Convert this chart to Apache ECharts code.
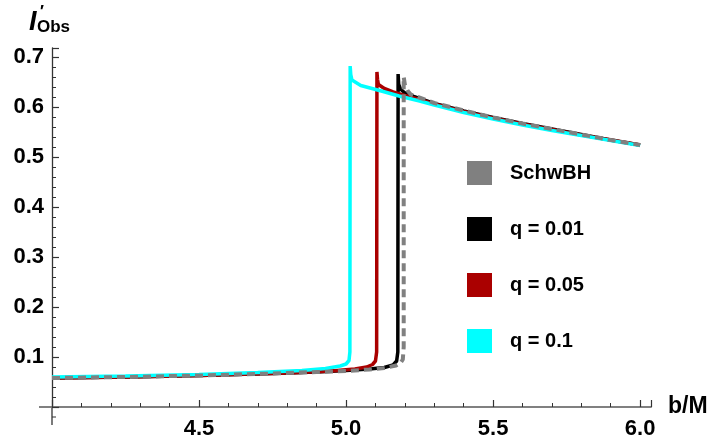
<!DOCTYPE html>
<html lang="en">
<head>
  <meta charset="UTF-8">
  <title>I'Obs vs b/M</title>
  <style>
    *{
      margin: 0;
      padding: 0;
    }
    body{
      background: #ffffff;
    }
    #chart{
      width: 711px;
      height: 446px;
    }
  </style>
</head>
<body>
<div id="chart"></div>

<script type="text/javascript" src="https://cdn.jsdelivr.net/npm/echarts@6/dist/echarts.min.js"></script>
<script>
  // tick steps of the axes (labels are the multiples of these)
  var xStep = 0.5;
  var yStep = 0.1;

  // [b/M, I'Obs]
  var schwData = [
    [4.0, 0.058], [4.25, 0.060], [4.5, 0.063], [4.75, 0.067], [4.9, 0.070], [5.0, 0.072],
    [5.08, 0.075], [5.13, 0.078], [5.17, 0.083], [5.185, 0.088], [5.193, 0.095], [5.196, 0.12],
    [5.196, 0.66], [5.2, 0.645], [5.21, 0.632], [5.22, 0.625], [5.3, 0.608], [5.4, 0.593],
    [5.5, 0.579], [5.6, 0.567], [5.7, 0.556], [5.8, 0.545], [5.9, 0.534], [6.0, 0.524]
  ];
  var q001Data = [
    [4.0, 0.058], [4.25, 0.060], [4.5, 0.063], [4.75, 0.067], [4.9, 0.070], [5.0, 0.073],
    [5.08, 0.076], [5.13, 0.079], [5.16, 0.084], [5.172, 0.092], [5.176, 0.11],
    [5.177, 0.666], [5.179, 0.645], [5.185, 0.636], [5.2, 0.628], [5.23, 0.621], [5.3, 0.607],
    [5.4, 0.592], [5.5, 0.579], [5.6, 0.567], [5.7, 0.556], [5.8, 0.545], [5.9, 0.534], [6.0, 0.524]
  ];
  var q005Data = [
    [4.0, 0.058], [4.25, 0.060], [4.5, 0.063], [4.8, 0.068], [4.95, 0.072], [5.03, 0.076],
    [5.07, 0.080], [5.09, 0.085], [5.1, 0.092], [5.104, 0.11],
    [5.105, 0.67], [5.107, 0.655], [5.11, 0.645], [5.13, 0.637], [5.16, 0.630], [5.2, 0.623],
    [5.25, 0.615], [5.3, 0.606], [5.4, 0.591], [5.5, 0.578], [5.6, 0.566], [5.7, 0.555],
    [5.8, 0.544], [5.9, 0.534], [6.0, 0.524]
  ];
  var q01Data = [
    [4.0, 0.060], [4.25, 0.062], [4.5, 0.065], [4.7, 0.069], [4.85, 0.073], [4.93, 0.077],
    [4.98, 0.082], [5.0, 0.086], [5.01, 0.093], [5.013, 0.11],
    [5.014, 0.682], [5.016, 0.665], [5.02, 0.654], [5.05, 0.643], [5.12, 0.632], [5.18, 0.622],
    [5.25, 0.612], [5.3, 0.604], [5.4, 0.589], [5.5, 0.576], [5.6, 0.564], [5.7, 0.553],
    [5.8, 0.543], [5.9, 0.533], [6.0, 0.523]
  ];

  var FONT = '"Liberation Sans", Arial, sans-serif';
  var X_LINE = '#808080';
  var Y_LINE = '#333333';
  var TICK = '#333333';

  // only print labels that sit on a whole step (hides the max/min end ticks)
  function stepLabel(step, v, min) {
    var k = v / step;
    if (Math.abs(k - Math.round(k)) > 1e-6 || Math.abs(v - min) < 1e-9) return '';
    return v.toFixed(1);
  }

  var myChart = echarts.init(document.getElementById('chart'));

  var option = {
    animation: false,
    grid: {
      left: 52,
      right: 60,
      top: 48,
      bottom: 39
    },
    legend: {
      orient: 'vertical',
      left: 467,
      top: 161,
      padding: 0,
      itemWidth: 25,
      itemHeight: 24,
      itemGap: 32,
      icon: 'rect',
      data: [
        { name: 'SchwBH', itemStyle: { color: '#808080', borderWidth: 0, borderType: 'solid' } },
        { name: 'q = 0.01', itemStyle: { color: '#000000', borderWidth: 0 } },
        { name: 'q = 0.05', itemStyle: { color: '#aa0000', borderWidth: 0 } },
        { name: 'q = 0.1', itemStyle: { color: '#00ffff', borderWidth: 0 } }
      ],
      textStyle: {
        fontFamily: FONT,
        fontSize: 20,
        fontWeight: 'bold',
        color: '#000',
        padding: [0, 0, 0, 13]
      }
    },
    xAxis: {
      type: 'value',
      min: 4.0,
      max: 6.037,
      interval: xStep,
      name: 'b/M',
      nameLocation: 'end',
      nameGap: 17,
      nameTextStyle: {
        fontFamily: FONT,
        fontSize: 23,
        fontWeight: 'bold',
        color: '#000'
      },
      splitLine: { show: false },
      axisLine: { lineStyle: { color: X_LINE, width: 2 } },
      axisTick: {
        show: true,
        inside: true,
        length: 7,
        lineStyle: { color: TICK, width: 1.2 }
      },
      minorTick: {
        show: true,
        splitNumber: 5,
        length: 4,
        lineStyle: { color: TICK, width: 1 }
      },
      axisLabel: {
        margin: 11,
        fontFamily: FONT,
        fontSize: 22,
        fontWeight: 'bold',
        color: '#000',
        formatter: function (v) { return stepLabel(xStep, v, 4.0); }
      }
    },
    yAxis: {
      type: 'value',
      min: 0,
      max: 0.718,
      interval: yStep,
      splitLine: { show: false },
      axisLine: { show: true, lineStyle: { color: Y_LINE, width: 1.3 } },
      axisTick: {
        show: true,
        inside: true,
        length: 7,
        lineStyle: { color: TICK, width: 1.2 }
      },
      minorTick: {
        show: true,
        splitNumber: 5,
        length: 4,
        lineStyle: { color: TICK, width: 1 }
      },
      axisLabel: {
        margin: 8,
        fontFamily: FONT,
        fontSize: 22,
        fontWeight: 'bold',
        color: '#000',
        formatter: function (v) { return stepLabel(yStep, v, 0); }
      }
    },
    series: [{
      name: 'q = 0.01',
      type: 'line',
      showSymbol: false,
      data: q001Data,
      itemStyle: { color: '#000000' },
      lineStyle: { color: '#000000', width: 3.5 },
      z: 2
    }, {
      name: 'q = 0.05',
      type: 'line',
      showSymbol: false,
      data: q005Data,
      itemStyle: { color: '#aa0000' },
      lineStyle: { color: '#aa0000', width: 3.5 },
      z: 3
    }, {
      name: 'q = 0.1',
      type: 'line',
      showSymbol: false,
      data: q01Data,
      itemStyle: { color: '#00ffff' },
      lineStyle: { color: '#00ffff', width: 3.5 },
      z: 4
    }, {
      name: 'SchwBH',
      type: 'line',
      showSymbol: false,
      data: schwData,
      itemStyle: { color: '#808080' },
      lineStyle: { color: '#808080', width: 4, type: [8, 5] },
      z: 5
    }]
  };

  myChart.setOption(option);

  // little axis stubs past the origin + y axis title
  var origin = myChart.convertToPixel({ gridIndex: 0 }, [4.0, 0]);
  myChart.setOption({
    graphic: [{
      type: 'line',
      shape: { x1: origin[0] - 13, y1: origin[1], x2: origin[0], y2: origin[1] },
      style: { stroke: X_LINE, lineWidth: 2 }
    }, {
      type: 'line',
      shape: { x1: origin[0], y1: origin[1], x2: origin[0], y2: origin[1] + 18 },
      style: { stroke: Y_LINE, lineWidth: 1.3 }
    }, {
      type: 'line',
      shape: { x1: origin[0], y1: origin[1] + 10, x2: origin[0] + 4, y2: origin[1] + 10 },
      style: { stroke: TICK, lineWidth: 1 }
    }, {
      type: 'text',
      left: 29,
      top: 9,
      style: {
        text: 'I',
        font: 'italic bold 27px ' + FONT,
        fill: '#000'
      }
    }, {
      type: 'text',
      left: 39,
      top: 4,
      style: {
        text: '\u2032',
        font: 'italic bold 17px ' + FONT,
        fill: '#000'
      }
    }, {
      type: 'text',
      left: 37,
      top: 19,
      style: {
        text: 'Obs',
        font: 'bold 17px ' + FONT,
        fill: '#000'
      }
    }]
  });
</script>
</body>
</html>
